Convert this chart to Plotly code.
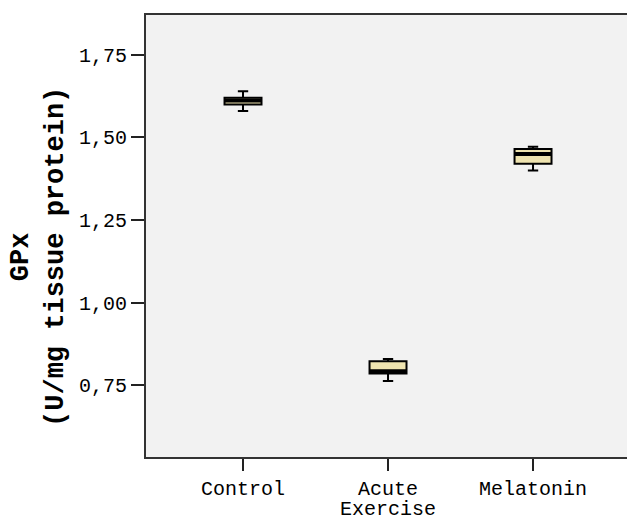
import plotly.graph_objects as go

categories = ["Control", "Acute", "Melatonin"]
category_second_line = ["", "Exercise", ""]
lower = [1.580, 0.762, 1.400]
q1 = [1.600, 0.785, 1.420]
median = [1.612, 0.792, 1.450]
q3 = [1.620, 0.822, 1.465]
upper = [1.640, 0.829, 1.472]
y_ticks = [0.75, 1.00, 1.25, 1.50, 1.75]
y_tick_labels = ["0,75", "1,00", "1,25", "1,50", "1,75"]
y_title = "<b>GPx<br>(U/mg tissue protein)</b>"

xpos = list(range(len(categories)))
mono = "Liberation Mono"

fig = go.Figure()
fig.add_trace(go.Box(
    x=xpos, q1=q1, median=median, q3=q3, lowerfence=lower, upperfence=upper,
    fillcolor="#EFE4B0", line=dict(color="black", width=2),
    width=0.255, whiskerwidth=0.28, boxpoints=False, showlegend=False,
    hoverinfo="skip",
))
fig.add_trace(go.Scatter(
    x=xpos, y=median, mode="markers",
    marker=dict(symbol="line-ew", size=26, line=dict(color="black", width=4)),
    showlegend=False, hoverinfo="skip",
))

annotations = [dict(
    text=y_title, textangle=-90, xref="paper", yref="paper",
    x=-0.2225, y=0.4525, xanchor="center", yanchor="middle",
    showarrow=False, font=dict(family=mono, size=27, color="black"),
)]
for xp, t in zip(xpos, category_second_line):
    if t:
        annotations.append(dict(
            text=t, xref="x", yref="paper", x=xp, y=0, xanchor="center",
            yanchor="top", yshift=-39, showarrow=False,
            font=dict(family=mono, size=20, color="black"),
        ))

fig.update_layout(
    width=627, height=515, autosize=False,
    margin=dict(l=146, r=0, t=15, b=58),
    paper_bgcolor="white", plot_bgcolor="#F2F2F2",
    font=dict(family=mono, color="black"),
    xaxis=dict(
        range=[-0.669, 2.648], tickvals=xpos, ticktext=categories,
        ticks="outside", ticklen=12, tickwidth=2, tickcolor="#222",
        showgrid=False, zeroline=False, showline=True, linecolor="#333", linewidth=2,
        mirror=True, tickfont=dict(family=mono, size=20), automargin=False,
    ),
    yaxis=dict(
        range=[0.532, 1.871], tickvals=y_ticks, ticktext=y_tick_labels,
        ticks="outside", ticklen=13, tickwidth=2, tickcolor="#222",
        showgrid=False, zeroline=False, showline=True, linecolor="#333", linewidth=2,
        mirror=True, tickfont=dict(family=mono, size=20), automargin=False,
    ),
    annotations=annotations,
)
fig.write_html("out.html", config={"responsive": False, "displayModeBar": False},
               post_script="document.body.style.margin='0';document.body.style.overflow='hidden';")
